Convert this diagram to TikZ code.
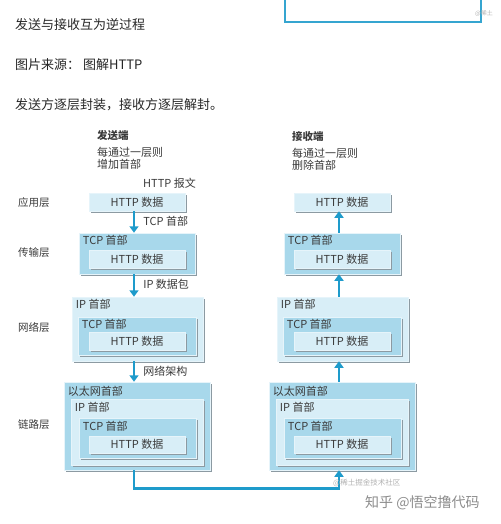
\documentclass[tikz,border=0pt]{standalone}
\usepackage{fontspec}
\setmainfont{Noto Sans CJK SC}
\usepackage{tikz}
\usetikzlibrary{arrows.meta,shadows}

\definecolor{arrblue}{HTML}{1E9BCB}
\definecolor{lightfill}{HTML}{D8EEF7}
\definecolor{deepfill}{HTML}{A8D8EB}
\definecolor{boxedge}{HTML}{E6F4FA}
\definecolor{txtgray}{HTML}{3A3A3A}
\definecolor{shadegray}{HTML}{8C9AA2}

\begin{document}
\begin{tikzpicture}[x=1pt, y=-1pt,
	base/.style={draw=boxedge, line width=0.5pt, inner sep=0pt,
		general shadow={shadow xshift=2pt, shadow yshift=-2pt, fill=shadegray}},
	light/.style={base, fill=lightfill},
	deep/.style={base, fill=deepfill},
	data/.style={light, minimum width=96pt, minimum height=18pt, font=\fontsize{11}{12}\selectfont, text=txtgray},
	hdr/.style={anchor=west, inner sep=0pt, font=\fontsize{11}{12}\selectfont, text=txtgray},
	lay/.style={anchor=west, inner sep=0pt, font=\fontsize{10.5}{12}\selectfont, text=txtgray},
	arr/.style={line width=2.6pt, draw=arrblue, -{Triangle[width=9pt,length=6.5pt]}},
	wm/.style={anchor=west, inner sep=0pt, text=black!45}]
	\useasboundingbox (0,0) rectangle (500,524);

	%top
	\draw[arrblue!90, line width=2pt] (285,-5) -- (285,22) -- (481,22) -- (481,-5);
	\node[wm, font=\fontsize{6}{7}\selectfont, text=black!30] (w0) at (475,14) {@稀土};
	\node[anchor=west, inner sep=0pt, font=\fontsize{13}{15}\selectfont, text=black!85] (t1) at (15,25) {发送与接收互为逆过程};
	\node[anchor=west, inner sep=0pt, font=\fontsize{13}{15}\selectfont, text=black!85] (t2) at (15,65) {图片来源： 图解HTTP};
	\node[anchor=west, inner sep=0pt, font=\fontsize{13}{15}\selectfont, text=black!85] (t3) at (15,105) {发送方逐层封装，接收方逐层解封。};

	%stacks
	\foreach \side/\dx in {s/0, r/205} {
		\node[data] (\side1) at (137+\dx,202) {HTTP 数据};

		\node[deep, minimum width=116pt, minimum height=41pt] (\side2) at (137+\dx,253.5) {};
		\node[hdr] at ([xshift=4pt,yshift=-8pt]\side2.north west) {TCP 首部};
		\node[data] (\side3) at (137+\dx,259) {HTTP 数据};

		\node[light, minimum width=131pt, minimum height=64pt] (\side4) at (137.5+\dx,329) {};
		\node[hdr] at ([xshift=4pt,yshift=-7.5pt]\side4.north west) {IP 首部};
		\node[deep, minimum width=118pt, minimum height=38pt] (\side5) at (137+\dx,336) {};
		\node[hdr] at ([xshift=4pt,yshift=-7.5pt]\side5.north west) {TCP 首部};
		\node[data] (\side6) at (137+\dx,341) {HTTP 数据};

		\node[deep, minimum width=146pt, minimum height=88pt] (\side7) at (137+\dx,426) {};
		\node[hdr] at ([xshift=4pt,yshift=-10pt]\side7.north west) {以太网首部};
		\node[light, minimum width=132pt, minimum height=66pt] (\side8) at (137+\dx,432) {};
		\node[hdr] at ([xshift=4pt,yshift=-9pt]\side8.north west) {IP 首部};
		\node[deep, minimum width=117pt, minimum height=40pt] (\side9) at (137.5+\dx,438) {};
		\node[hdr] at ([xshift=4pt,yshift=-9pt]\side9.north west) {TCP 首部};
		\node[data, minimum height=17pt] (\side10) at (137+\dx,444.5) {HTTP 数据};
	}

	%column heads
	\node[hdr, font=\bfseries\fontsize{10.5}{12}\selectfont] (sh) at (97,136) {发送端};
	\node[hdr] (sh2) at (97,152.5) {每通过一层则};
	\node[hdr] (sh3) at (97,164.5) {增加首部};
	\node[hdr, font=\bfseries\fontsize{10.5}{12}\selectfont] (rh) at (292,137) {接收端};
	\node[hdr] (rh2) at (292,153) {每通过一层则};
	\node[hdr] (rh3) at (292,165) {删除首部};
	\node[hdr] (msg) at (143,183) {HTTP 报文};

	%layers
	\node[lay] (l1) at (18,203) {应用层};
	\node[lay] (l2) at (18,253) {传输层};
	\node[lay] (l3) at (18,327) {网络层};
	\node[lay] (l4) at (18,425) {链路层};

	%arrows
	\draw[arr] ([xshift=-3pt]s1.south) -- node[hdr, xshift=8pt, yshift=1pt] {TCP 首部} ([xshift=-3pt]s2.north);
	\draw[arr] ([xshift=-3pt]s2.south) -- node[hdr, xshift=8pt, yshift=1pt] {IP 数据包} ([xshift=-3.5pt]s4.north);
	\draw[arr] ([xshift=-3.5pt]s4.south) -- node[hdr, xshift=8pt, yshift=0pt] {网络架构} ([xshift=-3pt]s7.north);
	\draw[arr] ([xshift=-3pt]s7.south) -- ++(0,18) -| ([xshift=-3pt]r7.south);
	\draw[arr] ([xshift=-3pt]r7.north) -- ([xshift=-3.5pt]r4.south);
	\draw[arr] ([xshift=-3.5pt]r4.north) -- ([xshift=-3pt]r2.south);
	\draw[arr] ([xshift=-3pt]r2.north) -- ([xshift=-3pt]r1.south);

	%marks
	\node[wm, font=\fontsize{7.5}{9}\selectfont, text=black!30] (w1) at (333,483) {@稀土掘金技术社区};
	\node[wm, font=\fontsize{14}{16}\selectfont] (w2) at (365,503) {知乎 @悟空撸代码};
\end{tikzpicture}
\end{document}
